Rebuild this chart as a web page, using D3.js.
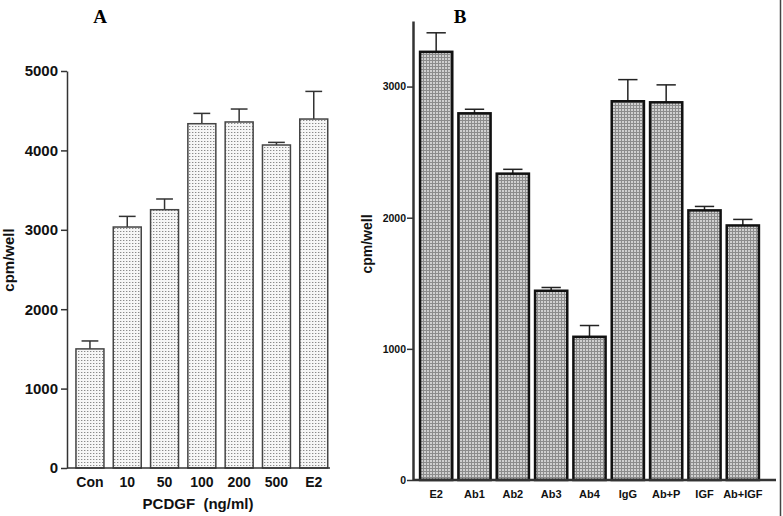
<!DOCTYPE html>
<html>
<meta charset="utf-8" />
<script src="https://cdn.jsdelivr.net/npm/d3@7"></script>
<style>
  html, body { margin: 0; padding: 0; background: #fff; }
  svg { display: block; font-family: "Liberation Sans", Arial, sans-serif; }
  .tick text { font-weight: bold; fill: #111; }
  .axis path, .axis line { stroke: #333; }
</style>
<body>
<div id="chart"></div>
<script>
// panel A
var catsA = ['Con', '10', '50', '100', '200', '500', 'E2'];
var valsA = [1500, 3035, 3253, 4336, 4358, 4068, 4395];
var errA = [100, 134, 135, 130, 163, 33, 348];
var ticksA = [0, 1000, 2000, 3000, 4000, 5000];

// panel B
var catsB = ['E2', 'Ab1', 'Ab2', 'Ab3', 'Ab4', 'IgG', 'Ab+P', 'IGF', 'Ab+IGF'];
var valsB = [3265, 2796, 2336, 1443, 1092, 2888, 2880, 2056, 1941];
var errB = [145, 31, 33, 25, 86, 165, 133, 30, 46];
var ticksB = [0, 1000, 2000, 3000];

var W = 783, H = 516;
var svg = d3.select('#chart').append('svg').attr('width', W).attr('height', H);

var defs = svg.append('defs');
// light dotted fill for A
var pA = defs.append('pattern').attr('id', 'dotsA').attr('patternUnits', 'userSpaceOnUse')
  .attr('width', 3).attr('height', 3);
pA.append('rect').attr('width', 3).attr('height', 3).attr('fill', '#f6f6f6');
pA.append('rect').attr('width', 1).attr('height', 1).attr('fill', '#8a8a8a');
pA.append('rect').attr('x', 1).attr('width', 1).attr('height', 1).attr('fill', '#d0d0d0');
// denser checkered fill for B
var pB = defs.append('pattern').attr('id', 'gridB').attr('patternUnits', 'userSpaceOnUse')
  .attr('width', 3).attr('height', 3);
pB.append('rect').attr('width', 3).attr('height', 3).attr('fill', '#d0d0d0');
pB.append('rect').attr('width', 1).attr('height', 3).attr('fill', '#8c8c8c');
pB.append('rect').attr('width', 3).attr('height', 1).attr('fill', '#8c8c8c');

var fmt = d3.format('d');

// ---------- panel A ----------
var xA = d3.scaleBand().domain(catsA).range([71.3, 332.4]).paddingInner(0.25).paddingOuter(0.125);
var yA = d3.scaleLinear().domain([0, 5000]).range([468, 71]);

var gA = svg.append('g');
gA.append('g').attr('class', 'axis').attr('transform', 'translate(67,0)')
  .call(d3.axisLeft(yA).tickValues(ticksA).tickFormat(fmt).tickSize(6).tickPadding(3).tickSizeOuter(0))
  .call(function (g) { g.select('.domain').attr('stroke-width', 1.5); })
  .call(function (g) { g.selectAll('.tick line').attr('stroke-width', 1.5); })
  .selectAll('text').style('font-size', '15px');

var barsA = gA.selectAll('g.barA').data(catsA).enter().append('g').attr('class', 'barA');
barsA.append('line')
  .attr('x1', function (d) { return xA(d) + xA.bandwidth() / 2; })
  .attr('x2', function (d) { return xA(d) + xA.bandwidth() / 2; })
  .attr('y1', function (d, i) { return yA(valsA[i]); })
  .attr('y2', function (d, i) { return yA(valsA[i] + errA[i]); })
  .attr('stroke', '#333').attr('stroke-width', 1.5);
barsA.append('line')
  .attr('x1', function (d) { return xA(d) + xA.bandwidth() * 0.2; })
  .attr('x2', function (d) { return xA(d) + xA.bandwidth() * 0.8; })
  .attr('y1', function (d, i) { return yA(valsA[i] + errA[i]); })
  .attr('y2', function (d, i) { return yA(valsA[i] + errA[i]); })
  .attr('stroke', '#333').attr('stroke-width', 1.5);
barsA.append('rect')
  .attr('x', function (d) { return xA(d); })
  .attr('width', xA.bandwidth())
  .attr('y', function (d, i) { return yA(valsA[i]); })
  .attr('height', function (d, i) { return yA(0) - yA(valsA[i]); })
  .attr('fill', 'url(#dotsA)').attr('stroke', '#444').attr('stroke-width', 1.5);

gA.append('g').attr('class', 'axis').attr('transform', 'translate(0,468)')
  .call(d3.axisBottom(xA).tickSize(0).tickPadding(9))
  .call(function (g) {
    g.select('.domain').attr('d', 'M67,0H330').attr('stroke-width', 1.5);
  })
  .selectAll('text').style('font-size', '14px');

gA.append('text').attr('x', 198).attr('y', 509).attr('text-anchor', 'middle')
  .style('font-size', '15px').style('font-weight', 'bold').style('white-space', 'pre').attr('fill', '#111')
  .text('PCDGF  (ng/ml)');
gA.append('text').attr('transform', 'translate(14,260) rotate(-90)').attr('text-anchor', 'middle')
  .style('font-size', '15px').style('font-weight', 'bold').attr('fill', '#111').text('cpm/well');
gA.append('text').attr('x', 100).attr('y', 23).attr('text-anchor', 'middle')
  .style('font-family', '"Liberation Serif", "Times New Roman", serif')
  .style('font-size', '19px').style('font-weight', 'bold').text('A');

// ---------- panel B ----------
var xB = d3.scaleBand().domain(catsB).range([417, 762]).paddingInner(0.16).paddingOuter(0.08);
var yB = d3.scaleLinear().domain([0, 3500]).range([480, 21]);

var gB = svg.append('g');
gB.append('g').attr('class', 'axis').attr('transform', 'translate(413,0)')
  .call(d3.axisLeft(yB).tickValues(ticksB).tickFormat(fmt).tickSize(6).tickPadding(1).tickSizeOuter(0))
  .call(function (g) { g.select('.domain').attr('stroke', '#111').attr('stroke-width', 2.5); })
  .call(function (g) { g.selectAll('.tick line').attr('stroke', '#111').attr('stroke-width', 1.5); })
  .selectAll('text').style('font-size', '10.5px');

var barsB = gB.selectAll('g.barB').data(catsB).enter().append('g').attr('class', 'barB');
barsB.append('line')
  .attr('x1', function (d) { return xB(d) + xB.bandwidth() / 2; })
  .attr('x2', function (d) { return xB(d) + xB.bandwidth() / 2; })
  .attr('y1', function (d, i) { return yB(valsB[i]); })
  .attr('y2', function (d, i) { return yB(valsB[i] + errB[i]); })
  .attr('stroke', '#222').attr('stroke-width', 1.5);
barsB.append('line')
  .attr('x1', function (d) { return xB(d) + xB.bandwidth() * 0.2; })
  .attr('x2', function (d) { return xB(d) + xB.bandwidth() * 0.8; })
  .attr('y1', function (d, i) { return yB(valsB[i] + errB[i]); })
  .attr('y2', function (d, i) { return yB(valsB[i] + errB[i]); })
  .attr('stroke', '#222').attr('stroke-width', 1.5);
barsB.append('rect')
  .attr('x', function (d) { return xB(d); })
  .attr('width', xB.bandwidth())
  .attr('y', function (d, i) { return yB(valsB[i]); })
  .attr('height', function (d, i) { return yB(0) - yB(valsB[i]); })
  .attr('fill', 'url(#gridB)').attr('stroke', '#111').attr('stroke-width', 2.5);

gB.append('g').attr('class', 'axis').attr('transform', 'translate(0,480)')
  .call(d3.axisBottom(xB).tickSize(0).tickPadding(10))
  .call(function (g) {
    g.select('.domain').attr('d', 'M413,0H776').attr('stroke', '#111').attr('stroke-width', 2.5);
  })
  .selectAll('text').style('font-size', '11px');

gB.append('text').attr('transform', 'translate(372,244) rotate(-90)').attr('text-anchor', 'middle')
  .style('font-size', '14px').style('font-weight', 'bold').attr('fill', '#111').text('cpm/well');
gB.append('text').attr('x', 460).attr('y', 23).attr('text-anchor', 'middle')
  .style('font-family', '"Liberation Serif", "Times New Roman", serif')
  .style('font-size', '19px').style('font-weight', 'bold').text('B');

// page edge on the right
svg.append('line').attr('x1', 780.5).attr('x2', 780.5).attr('y1', 0).attr('y2', H)
  .attr('stroke', '#444').attr('stroke-width', 1.5);
</script>
</body>
</html>
